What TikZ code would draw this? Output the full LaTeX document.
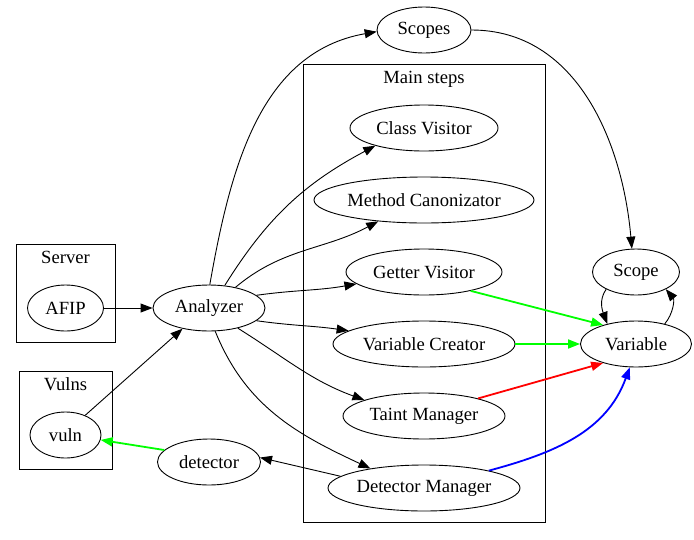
\documentclass[tikz,border=0pt]{standalone}
\usepackage{fontspec}
\setmainfont{Liberation Serif}
\usepackage{tikz}
\usetikzlibrary{arrows.meta,shapes.geometric}
\definecolor{EdgeGreen}{RGB}{0,255,0}
\definecolor{EdgeRed}{RGB}{255,0,0}
\definecolor{EdgeBlue}{RGB}{0,0,255}

\begin{document}
\begin{tikzpicture}[
  x=1pt, y=1pt,
  proc/.style={
    draw,
    ellipse,
    inner sep=0pt,
    minimum height=46pt,
    line width=0.9pt
  },
  cluster/.style={draw, line width=1pt, inner sep=0pt},
  clusterlabel/.style={anchor=north, inner sep=0pt},
  edge/.style={-{Triangle[length=12pt,width=9pt]}, line width=0.9pt},
  hot/.style={edge, line width=1.8pt},
  font=\fontsize{18.6}{21}\selectfont
]
\useasboundingbox (0,0) rectangle (694,-539);
\def\XMain{424}
\def\XLeft{65.5}
\def\XAna{209}
\def\XRight{636}

% clusters
\node[cluster, minimum width=242pt, minimum height=458pt] (mainbox) at (\XMain,-293) {};
\node[clusterlabel] at (\XMain,-71) {Main steps};
\node[cluster, minimum width=99pt, minimum height=98pt] (serverbox) at (\XLeft,-293) {};
\node[clusterlabel] at (\XLeft,-251) {Server};
\node[cluster, minimum width=93pt, minimum height=98pt] (vulnsbox) at (\XLeft,-420) {};
\node[clusterlabel] at (\XLeft,-377) {Vulns};

% nodes
\node[proc, minimum width=94pt] (scopes) at (\XMain,-30) {Scopes};
\node[proc, minimum width=148pt] (classv) at (\XMain,-128) {Class Visitor};
\node[proc, minimum width=220pt] (canon) at (\XMain,-200) {Method Canonizator};
\node[proc, minimum width=156pt] (getter) at (\XMain,-272) {Getter Visitor};
\node[proc, minimum width=182pt] (varcr) at (\XMain,-344) {Variable Creator};
\node[proc, minimum width=162pt] (taint) at (\XMain,-416) {Taint Manager};
\node[proc, minimum width=192pt] (detman) at (\XMain,-488) {Detector Manager};
\node[proc, minimum width=76pt] (afip) at (\XLeft,-308) {AFIP};
\node[proc, minimum width=71pt] (vuln) at (\XLeft,-435) {vuln};
\node[proc, minimum width=112pt] (analyzer) at (\XAna,-308) {Analyzer};
\node[proc, minimum width=103pt] (detector) at (\XAna,-462) {detector};
\node[proc, minimum width=87pt] (scope) at (\XRight,-272) {Scope};
\node[proc, minimum width=111pt] (variable) at (\XRight,-344) {Variable};

% edges
\draw[edge] (afip) -- (analyzer);
\draw[edge] (vuln.45) -- (analyzer.218);
\draw[edge] (analyzer.88) to[out=80,in=190] (scopes.182);
\draw[edge] (analyzer.55) to[out=58,in=208] (classv.200);
\draw[edge] (analyzer.38) to[out=40,in=208] (canon.205);
\draw[edge] (analyzer.15) to[out=8,in=190] (getter.190);
\draw[edge] (analyzer.-15) to[out=-8,in=172] (varcr.170);
\draw[edge] (analyzer.-35) to[out=-32,in=160] (taint.165);
\draw[edge] (analyzer.-75) to[out=-68,in=155] (detman.160);
\draw[edge] (detman.172) -- (detector.5);
\draw[edge] (scopes.0) to[out=0,in=95] (scope.100);
\draw[edge] (scope.210) to[out=235,in=110] (variable.145);
\draw[edge] (variable.35) to[out=50,in=-50] (scope.-30);
\draw[hot, EdgeGreen] (detector.165) -- (vuln.-8);
\draw[hot, EdgeGreen] (getter.-22) -- (variable.150);
\draw[hot, EdgeGreen] (varcr) -- (variable);
\draw[hot, EdgeRed] (taint.18) -- (variable.-150);
\draw[hot, EdgeBlue] (detman.15) to[out=15,in=-110] (variable.-105);
\end{tikzpicture}
\end{document}
